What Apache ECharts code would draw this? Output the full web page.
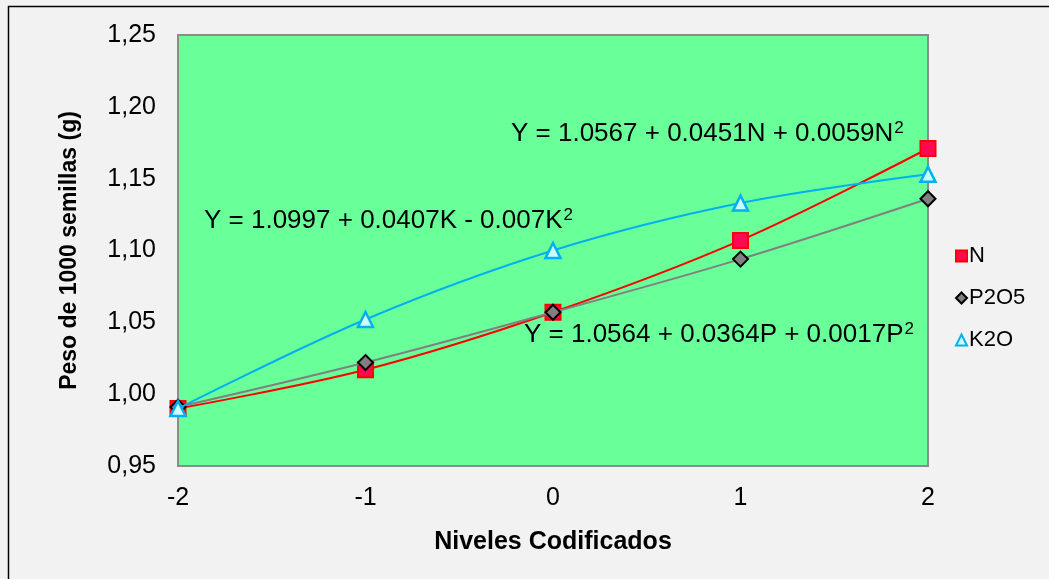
<!DOCTYPE html>
<html>
<head>
<meta charset="utf-8">
<script src="https://cdn.jsdelivr.net/npm/echarts@6/dist/echarts.min.js"></script>
<style>
  html, body { margin: 0; padding: 0; background: #F2F2F2; }
  #chart { width: 1049px; height: 579px; }
</style>
</head>
<body>
<div id="chart"></div>
<script>
// Coded factor levels
const levels = ['-2', '-1', '0', '1', '2'];
// Seed weight (g per 1000 seeds) for each nutrient
const nValues = [0.990, 1.017, 1.057, 1.107, 1.171];
const pValues = [0.991, 1.022, 1.057, 1.094, 1.136];
const kValues = [0.990, 1.052, 1.100, 1.133, 1.153];
// Y axis range
const yMin = 0.95, yMax = 1.25, yStep = 0.05;

const FONT = '"Liberation Sans", Arial, sans-serif';

const chart = echarts.init(document.getElementById('chart'));

const eqRich = {
  b: { fontFamily: FONT, fontSize: 26, color: '#000' },
  s: { fontFamily: FONT, fontSize: 17, color: '#000', verticalAlign: 'top', padding: [0, 0, 11, 1] }
};

function eqText(x, y, parts) {
  return {
    type: 'text', left: x, top: y, z: 50,
    style: { rich: eqRich, text: parts, font: '26px ' + FONT }
  };
}

chart.setOption({
  backgroundColor: '#F2F2F2',
  animation: false,
  grid: {
    left: 178, right: 121, top: 35, bottom: 113,
    show: true, backgroundColor: '#69FF99',
    borderColor: '#8C8C8C', borderWidth: 2
  },
  legend: {
    orient: 'vertical', left: 950, top: 240,
    itemWidth: 11, itemHeight: 11, itemGap: 20,
    textStyle: { fontFamily: FONT, fontSize: 22, color: '#000', padding: [0, 0, 0, -3] },
    data: [
      { name: 'N', icon: 'rect' },
      { name: 'P2O5', icon: 'diamond' },
      { name: 'K2O', icon: 'triangle' }
    ]
  },
  xAxis: {
    type: 'category', data: levels, boundaryGap: false,
    name: 'Niveles Codificados', nameLocation: 'middle', nameGap: 64,
    nameTextStyle: { fontFamily: FONT, fontSize: 25, fontWeight: 'bold', color: '#000' },
    axisLine: { show: false }, axisTick: { show: false },
    axisLabel: { fontFamily: FONT, fontSize: 25, color: '#000', margin: 20 },
    splitLine: { show: false }
  },
  yAxis: {
    type: 'value', min: yMin, max: yMax, interval: yStep,
    name: 'Peso de 1000 semillas (g)', nameLocation: 'middle', nameGap: 97,
    nameTextStyle: { fontFamily: FONT, fontSize: 23, fontWeight: 'bold', color: '#000' },
    axisLine: { show: false }, axisTick: { show: false },
    axisLabel: {
      fontFamily: FONT, fontSize: 25, color: '#000', margin: 22,
      formatter: v => v.toFixed(2).replace('.', ',')
    },
    splitLine: { show: false }
  },
  series: [
    {
      name: 'N', type: 'line', data: nValues, smooth: 0.35,
      symbol: 'rect', symbolSize: 15,
      lineStyle: { color: '#FF0000', width: 2 },
      itemStyle: { color: '#FF0A50', borderColor: '#FF0000', borderWidth: 2 },
      z: 2
    },
    {
      name: 'P2O5', type: 'line', data: pValues, smooth: 0.35,
      symbol: 'diamond', symbolSize: 15,
      lineStyle: { color: '#808080', width: 2 },
      itemStyle: { color: '#808080', borderColor: '#000', borderWidth: 2 },
      z: 3
    },
    {
      name: 'K2O', type: 'line', data: kValues, smooth: 0.35,
      symbol: 'triangle', symbolSize: 15,
      lineStyle: { color: '#00B0F0', width: 2 },
      itemStyle: { color: '#CCFFFF', borderColor: '#00B0F0', borderWidth: 2.5 },
      z: 4
    }
  ],
  graphic: [
    {
      type: 'rect', left: 6, top: 4, z: -1, silent: true,
      shape: { width: 1100, height: 620 },
      style: { fill: 'none', stroke: '#000', lineWidth: 1.5 }
    },
    eqText(511, 120, '{b|Y = 1.0567 + 0.0451N + 0.0059N}{s|2}'),
    eqText(204, 207, '{b|Y = 1.0997 + 0.0407K - 0.007K}{s|2}'),
    eqText(524, 321, '{b|Y = 1.0564 + 0.0364P + 0.0017P}{s|2}')
  ]
});
</script>
</body>
</html>
